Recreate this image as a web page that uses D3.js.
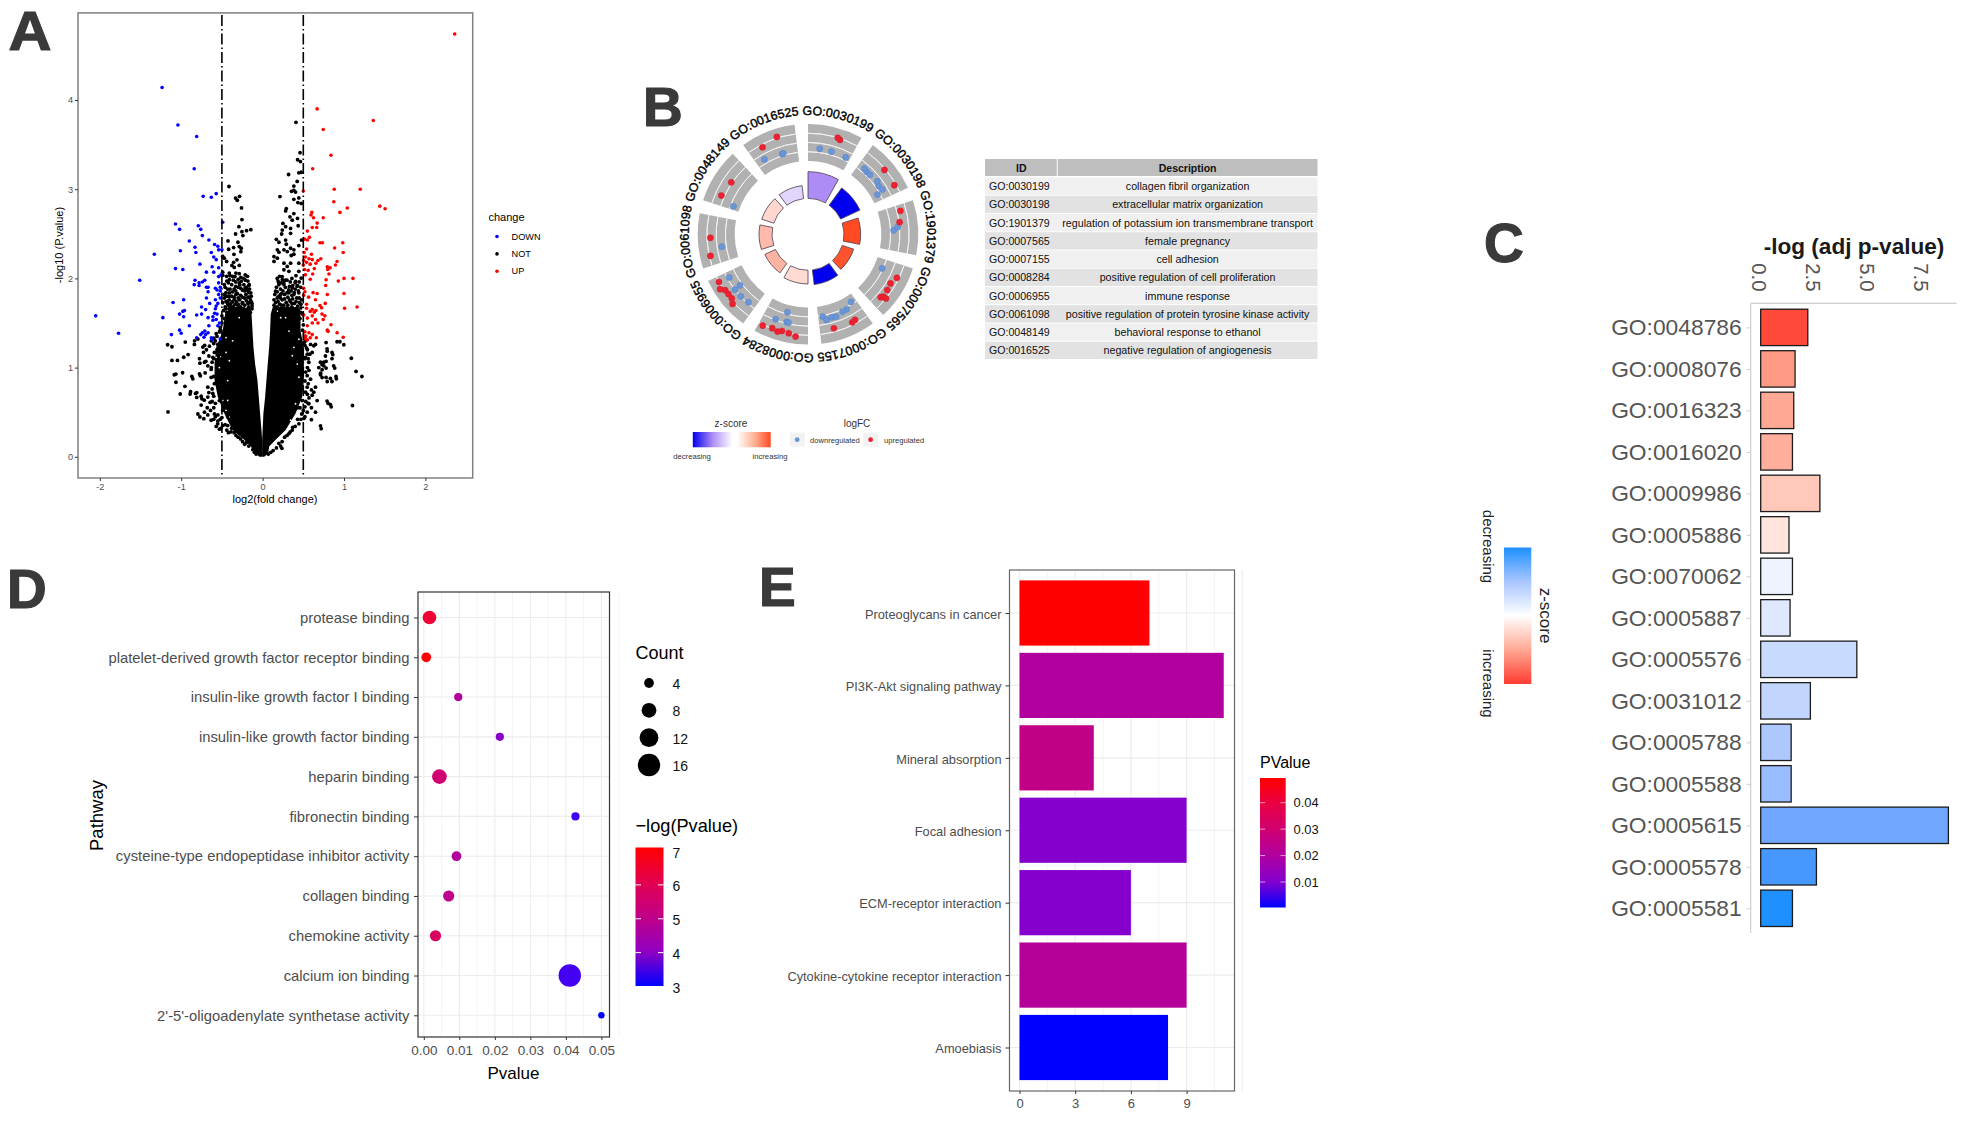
<!DOCTYPE html>
<html><head><meta charset="utf-8">
<script src="https://cdn.jsdelivr.net/npm/d3@7/dist/d3.min.js"></script>
<style>
html,body{margin:0;padding:0;background:#fff}
text{font-family:"Liberation Sans",Arial,sans-serif}
</style></head><body>
<svg id="c" width="1965" height="1121" xmlns="http://www.w3.org/2000/svg"></svg>
<script>
/* ---------- Panel A: volcano ---------- */
const volcanoLegend = ["DOWN","NOT","UP"];
const volcanoColors = ["#0000ff","#000000","#ff0000"];
const volcanoXTicks = [-2,-1,0,1,2];
const volcanoYTicks = [0,1,2,3,4];
const foldThresholds = [-0.5,0.5];
const downPoints = [[-1.235,4.14],[-1.04,3.72],[-.81,3.59],[-.84,3.23],[-.73,2.92],[-.63,2.91],[-.57,2.95],[-.49,2.63],[-1.07,2.61],[-1.02,2.55],[-.79,2.59],[-.76,2.55],[-.74,2.48],[-.9,2.42],[-.66,2.43],[-.59,2.38],[-.54,2.32],[-.5,2.32],[-.55,2.36],[-.83,2.35],[-.82,2.29],[-.63,2.29],[-1.01,2.31],[-1.33,2.27],[-.6,2.24],[-.57,2.21],[-.77,2.16],[-.62,2.13],[-.54,2.12],[-1.07,2.11],[-.98,2.1],[-.69,2.07],[-.6,2.07],[-.51,2.04],[-.54,2.02],[-1.51,1.98],[-.83,1.98],[-.71,1.98],[-.74,1.96],[-.78,1.95],[-.84,1.93],[-.78,1.92],[-.54,1.95],[-.52,1.9],[-.69,1.9],[-.67,1.9],[-.58,1.89],[-.56,1.87],[-.52,1.86],[-.67,1.85],[-.54,1.82],[-.69,1.78],[-.58,1.76],[-.52,1.78],[-.97,1.76],[-1.1,1.73],[-.55,1.72],[-.65,1.72],[-.75,1.68],[-.57,1.69],[-.7,1.65],[-.58,1.66],[-.96,1.64],[-.98,1.63],[-1.02,1.6],[-.75,1.6],[-.81,1.59],[-.59,1.61],[-.56,1.6],[-.61,1.57],[-.97,1.57],[-2.05,1.58],[-1.225,1.56],[-.67,1.56],[-.61,1.53],[-.57,1.54],[-.53,1.5],[-.66,1.47],[-.9,1.47],[-.55,1.47],[-1.02,1.42],[-.71,1.41],[-.74,1.39],[-.67,1.39],[-.76,1.37],[-1.77,1.385],[-1.12,1.37],[-1.0,1.385],[-.7,1.37],[-.81,1.335],[-.72,1.34],[-.63,1.335],[-.52,1.32],[-.62,1.31]];
const upPoints = [[2.36,4.74],[.67,3.9],[1.36,3.77],[.745,3.67],[.84,3.38],[.615,3.23],[.5,2.98],[.88,3.0],[1.2,3.0],[.875,2.86],[1.44,2.81],[1.505,2.78],[1.04,2.79],[.95,2.74],[.605,2.74],[.595,2.71],[.625,2.68],[.745,2.68],[.67,2.62],[.61,2.57],[.665,2.57],[.55,2.53],[.515,2.44],[.55,2.43],[.575,2.46],[.705,2.4],[.735,2.4],[.985,2.4],[.885,2.34],[.99,2.29],[.54,2.33],[.51,2.29],[.6,2.27],[.525,2.24],[.57,2.22],[.61,2.21],[.505,2.2],[.715,2.22],[.68,2.2],[.915,2.19],[.895,2.15],[.655,2.17],[.54,2.18],[.585,2.16],[.5,2.15],[.795,2.13],[.83,2.12],[.635,2.11],[.515,2.1],[.56,2.09],[.8,2.1],[.815,2.05],[.615,2.05],[.525,2.04],[.78,1.985],[1.0,2.0],[1.11,2.0],[.93,1.97],[.585,1.99],[.775,1.92],[.505,1.89],[.52,1.85],[.62,1.84],[.67,1.83],[1.0,1.83],[.505,1.81],[.795,1.82],[.565,1.79],[.65,1.76],[.77,1.72],[.54,1.71],[.705,1.695],[1.16,1.68],[1.007,1.665],[.54,1.665],[.725,1.67],[.61,1.65],[.655,1.64],[.585,1.63],[.635,1.62],[.505,1.59],[.73,1.6],[.765,1.58],[.61,1.58],[.55,1.555],[.65,1.54],[.745,1.54],[.61,1.5],[.68,1.5],[.55,1.47],[.84,1.48],[.795,1.42],[.805,1.405],[.915,1.39],[.52,1.4],[.57,1.39],[.61,1.37],[.53,1.355],[.99,1.34],[.66,1.335],[.585,1.335],[.525,1.325],[.55,1.31]];
const notPointsLeft = [[-.413,3.03],[-.283,2.92],[-.332,2.9],[-.311,2.876],[-.259,2.79],[-.254,2.66],[-.145,2.546],[-.197,2.535],[-.254,2.524],[-.291,2.58],[-.332,2.498],[-.242,2.48],[-.425,2.42],[-.303,2.405],[-.356,2.346],[-.287,2.357],[-.263,2.338],[-.417,2.327],[-.267,2.3],[-.352,2.27],[-.49,2.246],[-.47,2.227],[-.442,2.19],[-.315,2.208],[-.356,2.18],[-.287,2.146],[-.377,2.146],[-.348,2.123],[-.49,2.07],[-.409,2.06],[-.442,2.023],[-.49,2.034],[-.328,2.06],[-.287,2.053],[-.214,2.04],[-.185,2.023],[-.368,2.023],[-.267,2.012],[-.409,1.986],[-.287,1.949],[-.214,1.893],[-.165,1.93],[-.145,1.838],[-.47,1.82],[-.409,1.838],[-.328,1.82],[-.206,1.82],[-.49,1.727],[-.43,1.745],[-.348,1.763],[-.246,1.727],[-.165,1.727],[-.389,1.69],[-.307,1.7],
[-.836,1.30],[-.795,1.32],[-.734,1.23],[-.726,1.17],[-.775,1.10],[-.714,1.06],[-.673,1.02],[-.869,.90],[-.775,.93],[-.706,.94],[-.632,.89],[-.673,.78],[-.885,.73],[-.824,.71],[-.755,.68],[-.746,.65],[-.673,.67],[-.612,.71],[-.645,.61],[-.755,.58],[-.795,.48],[-.714,.50],[-.673,.47],[-.632,.41],[-.592,.48],[-.551,.37],[-.49,.35],[-.51,.32],[-.429,.35],[-.388,.28],[-.327,.24],[-.246,.17],[-.612,1.115],[-.551,1.26],[-.653,1.24],[-.592,1.17],[-.632,.98],[-.592,.82],[-.531,.63],[-.49,.52],[-.429,.45],
[-1.162,.503],[-1.167,1.256],[-1.114,1.234],[-1.114,1.08],[-1.046,1.08],[-.95,1.286],[-.838,1.26],[-.712,1.25],[-.915,1.146],[-.969,1.116],[-1.085,.92],[-1.065,.927],[-.983,.942],[-1.065,.836],[-.857,.874],[-.765,.908],[-.954,.79],[-1.012,.704],[-.891,.704],[-.809,.666],[-.809,.72],[-.697,1.07],[-.77,1.05],[-.717,.635],[-.77,.446],[-.722,.427],
[-.44,1.97],[-.38,1.93],[-.33,1.96],[-.26,1.97],[-.23,1.93],[-.18,1.97],[-.46,1.9],[-.4,1.88],[-.35,1.88],[-.3,1.9],[-.25,1.87],[-.19,1.87],[-.16,1.88],[-.47,1.78],[-.44,1.8],[-.38,1.8],[-.31,1.83],[-.27,1.81],[-.22,1.78],[-.18,1.79],[-.14,1.8],[-.45,1.74],[-.41,1.76],[-.37,1.74],[-.32,1.74],[-.28,1.76],[-.2,1.75],[-.15,1.76],[-.13,1.72],[-.46,1.68],[-.42,1.7],[-.36,1.68],[-.33,1.66],[-.27,1.68],[-.22,1.7],[-.17,1.68],[-.13,1.66],[-.48,1.64],[-.44,1.62],[-.15,1.62],[-.5,1.58],[-.47,1.55],[-.5,1.5],[-.52,1.45],[-.53,1.4],[-.56,1.35],[-.58,1.3],
[-.42,1.95],[-.36,1.98],[-.3,1.99],[-.21,1.98],[-.43,1.88],[-.37,1.85],[-.33,1.86],[-.27,1.89],[-.22,1.86],[-.17,1.84],[-.45,1.84],[-.41,1.8],[-.35,1.79],[-.3,1.78],[-.25,1.79],[-.16,1.79],[-.43,1.72],[-.39,1.72],[-.34,1.71],[-.3,1.71],[-.25,1.72],[-.18,1.72],[-.14,1.74],[-.41,1.66],[-.37,1.64],[-.31,1.65],[-.25,1.66],[-.2,1.65],[-.45,1.66],[-.13,1.69],[-.23,2.0],[-.34,2.02],[-.4,2.03],[-.17,1.92],[-.47,1.93],[-.2,1.9],[-.28,1.93],[-.33,1.91],
[-.68,.55],[-.64,.52],[-.6,.55],[-.62,.62],[-.58,.6],[-.66,.72],[-.62,.76],[-.6,.68],[-.6,.9],[-.63,1.0],[-.62,1.06],[-.6,1.1],[-.66,1.13],[-.69,1.2],[-.63,1.3],[-.6,1.27],[-.56,1.2],[-.6,1.33],[-.57,1.38],[-.52,1.42],[-.58,.45],[-.55,.47],[-.52,.42],[-.6,.42],[-.55,.4],[-.5,.44],[-.57,.34],[-.53,.31],[-.46,.36],[-.44,.3],[-.42,.27],[-.38,.32],[-.35,.27],[-.3,.22],[-.27,.2],[-.22,.14],[-.2,.16],[-.17,.12],[-.12,.08],[-.1,.05],[-.08,.03]];
const notPointsRight = [[.41,3.75],[.319,3.165],[.445,3.184],[.474,3.19],[.46,3.41],[.43,3.33],[.465,3.31],[.425,3.087],[.384,3.035],[.384,2.987],[.356,2.976],[.405,2.968],[.213,2.917],[.384,2.887],[.445,2.902],[.433,2.85],[.474,2.84],[.291,2.783],[.283,2.757],[.384,2.727],[.336,2.69],[.364,2.653],[.429,2.672],[.25,2.616],[.283,2.58],[.344,2.56],[.242,2.542],[.437,2.59],[.234,2.498],[.344,2.505],[.169,2.438],[.283,2.43],[.201,2.405],[.478,2.43],[.291,2.383],[.445,2.368],[.181,2.32],[.262,2.32],[.344,2.338],[.384,2.32],[.201,2.294],[.303,2.301],[.14,2.245],[.181,2.227],[.352,2.257],[.384,2.271],[.14,2.19],[.262,2.171],[.303,2.134],[.344,2.171],[.445,2.171],[.262,2.097],[.323,2.079],[.445,2.079],[.209,2.023],[.242,1.986],[.405,1.967],[.474,2.004],[.201,1.949],[.262,1.93],[.364,1.893],[.425,1.912],[.16,1.856],[.323,1.838],[.222,1.819],[.384,1.819],[.445,1.838],
[.589,1.26],[.65,1.26],[.609,1.17],[.792,1.21],[.853,1.17],[.772,1.13],[.853,1.10],[.711,1.06],[.752,1.06],[.873,1.02],[.69,1.0],[.752,1.02],[.711,.92],[.78,.89],[.833,.88],[.902,.90],[.528,1.115],[.568,1.06],[.548,.91],[.589,.87],[.65,.78],[.629,.725],[.609,.69],[.792,.625],[.833,.585],[.67,.63],[.65,.50],[.548,.50],[.711,.347],[.487,.63],[.568,.595],[.507,.43],[.446,.37],[.365,.30],[.324,.26],[.222,.12],[.548,.78],[.528,.725],[.629,1.245],[.528,1.30],
[1.104,.575],[1.22,.90],[1.148,.957],[1.09,1.105],[.72,.315],[.804,.6],[.843,.56],[.6,.416],[.237,.095],[.78,1.28],[.915,1.29],[.95,1.29],[.998,1.256],[.794,1.184],[.862,1.146],[.78,1.07],[.731,1.033],[.886,.995],[.731,.976],[.78,.995],[.712,.938],[.731,.889],[.794,.844],[.852,.844],[.906,.874],
[.19,1.97],[.23,1.95],[.3,1.98],[.34,1.96],[.4,1.95],[.45,1.96],[.17,1.9],[.22,1.88],[.28,1.9],[.33,1.91],[.4,1.88],[.47,1.9],[.15,1.82],[.2,1.8],[.27,1.82],[.31,1.79],[.36,1.81],[.42,1.78],[.48,1.76],[.14,1.76],[.19,1.74],[.24,1.76],[.29,1.73],[.34,1.74],[.39,1.72],[.45,1.73],[.14,1.7],[.18,1.68],[.23,1.7],[.3,1.67],[.36,1.68],[.41,1.66],[.47,1.67],[.49,1.6],[.46,1.55],[.5,1.48],[.49,1.42],[.52,1.35],[.51,1.28],[.54,1.22],[.55,1.15],[.56,1.1],
[.2,1.93],[.26,1.95],[.32,1.87],[.37,1.92],[.43,1.92],[.25,1.86],[.3,1.84],[.35,1.86],[.39,1.84],[.44,1.86],[.18,1.85],[.23,1.83],[.18,1.78],[.22,1.78],[.27,1.77],[.33,1.76],[.37,1.77],[.41,1.74],[.45,1.78],[.16,1.73],[.21,1.71],[.26,1.7],[.31,1.7],[.36,1.72],[.43,1.69],[.47,1.71],[.16,1.67],[.2,1.66],[.26,1.65],[.32,1.64],[.38,1.65],[.44,1.64],[.15,1.63],[.47,1.62],[.28,1.98],[.36,2.0],[.24,2.02],[.41,2.03],[.18,2.0],
[.52,1.25],[.55,1.2],[.52,1.1],[.58,1.15],[.55,1.0],[.53,.95],[.57,.97],[.52,.85],[.56,.82],[.6,.75],[.55,.7],[.53,.62],[.57,.66],[.52,.56],[.5,.52],[.48,.48],[.52,.45],[.47,.42],[.43,.42],[.4,.34],[.37,.33],[.34,.28],[.3,.24],[.27,.22],[.24,.17],[.2,.15],[.17,.1],[.13,.07],[.1,.05],[.07,.03],[.56,.6],[.6,.55],[.46,.55],[.43,.55]];
/* outline of the solid black mass, read per -log10 p level */
const massLevels     = [1.68,1.60,1.41,1.225,1.04,.855,.67,.485,.30,.19,.115,.04,0];
const massLeftOuter  = [-.39,-.46,-.49,-.57,-.59,-.59,-.55,-.47,-.37,-.226,-.144,-.09,-.04];
const massLeftInner  = [-.15,-.136,-.124,-.112,-.092,-.063,-.047,-.031,-.014,-.006,-.006,-.006,-.006];
const massRightInner = [.125,.10,.092,.08,.063,.047,.031,.01,0,-.005,-.006,-.006,-.006];
const massRightOuter = [.44,.466,.466,.507,.507,.507,.486,.405,.283,.16,.08,.07,.02];
/* small white flecks visible inside the mass */
const massFlecks = [[-.571,1.115],[-.51,1.122],[-.449,1.17],[-.409,1.077],[-.531,1.0],[-.429,.855],[-.49,.632],[-.449,.521],[-.592,.595],[-.429,.632],[-.409,.447],[.385,1.226],[.446,1.318],[.365,1.133],[.426,1.04],[.446,.892],[.405,.595],[.446,.503],[.344,.41],[.324,1.41],[.283,1.56],[-.368,1.634],[-.287,1.56],[-.205,1.67],[.182,1.634],[.222,1.56],[-.449,1.337],[-.368,1.3],[.365,1.67]];

/* ---------- Panel B: GO circle ---------- */
const goIds = ["GO:0030199","GO:0030198","GO:1901379","GO:0007565","GO:0007155","GO:0008284","GO:0006955","GO:0061098","GO:0048149","GO:0016525"];
const goDescriptions = ["collagen fibril organization","extracellular matrix organization","regulation of potassium ion transmembrane transport","female pregnancy","cell adhesion","positive regulation of cell proliferation","immune response","positive regulation of protein tyrosine kinase activity","behavioral response to ethanol","negative regulation of angiogenesis"];
const goZScores = [-.5,-1,1,.95,-1,.2,.42,.38,.22,-.18];
const goBarHeights = [188,172,158,144,152,149,143,147,146,147];
const goGenes = [
 [[.59,1.49],[.645,1.27],[.27,-.89],[.545,-.95],[.9,-1.0]],
 [[.16,-.84],[.245,-.97],[.35,-.95],[.48,1.32],[.84,1.22],[.57,-.73],[.68,-1],[.79,-.78],[.835,-1.92]],
 [[.13,.57],[.36,.1],[.46,-.3],[.53,-.98]],
 [[.23,-1.65],[.28,1.16],[.44,.68],[.59,.82],[.745,.95],[.79,.7],[.74,1.49]],
 [[.12,-1.9],[.3,-1.2],[.41,-1.16],[.59,-.78],[.69,-.89],[.82,-.68],[.89,-1.32],[.25,.95],[.32,1.09],[.71,.92]],
 [[.51,-1.81],[.43,-.22],[.47,-.26],[.72,-.14],[.24,1.82],[.38,1.46],[.52,1.35],[.6,1.65],[.72,1.41],[.91,1.65]],
 [[.87,-.33],[.59,-1.1],[.58,-.04],[.39,-.05],[.18,-.22],[.89,1.49],[.76,1.92],[.69,1.32],[.59,1.25],[.48,1.27],[.39,1.76]],
 [[.55,.95],[.19,1.32],[.34,-.76]],
 [[.555,.14],[.21,.5],[.09,-1.97]],
 [[.63,1.69],[.29,1.04],[.2,-.84],[.655,-1.16],[.63,-1.2]]
];
const logFcLegend = ["downregulated","upregulated"];
const logFcColors = ["#6a96d8","#ef2030"];

/* ---------- Panel C: bars ---------- */
const cTerms = ["GO:0048786","GO:0008076","GO:0016323","GO:0016020","GO:0009986","GO:0005886","GO:0070062","GO:0005887","GO:0005576","GO:0031012","GO:0005788","GO:0005588","GO:0005615","GO:0005578","GO:0005581"];
const cValues = [2.18,1.59,1.53,1.47,2.74,1.31,1.47,1.36,4.45,2.3,1.41,1.41,8.69,2.58,1.47];
const cZScores = [.95,.57,.49,.46,.32,.15,-.1,-.2,-.32,-.36,-.48,-.58,-.78,-.92,-1];
const cTicks = [0,2.5,5,7.5];

/* ---------- Panel D: bubbles ---------- */
const dPathways = ["protease binding","platelet-derived growth factor receptor binding","insulin-like growth factor I binding","insulin-like growth factor binding","heparin binding","fibronectin binding","cysteine-type endopeptidase inhibitor activity","collagen binding","chemokine activity","calcium ion binding","2'-5'-oligoadenylate synthetase activity"];
const dPvalues = [.0016,.0007,.0097,.0214,.0044,.0427,.0092,.007,.0033,.0411,.05];
const dCounts = [7,4,3,3,8,3,4,5,5,16,2];
const dTicks = [0,.01,.02,.03,.04,.05];
const dCountLegend = [4,8,12,16];
const dColorLegend = [3,4,5,6,7];

/* ---------- Panel E: bars ---------- */
const ePathways = ["Proteoglycans in cancer","PI3K-Akt signaling pathway","Mineral absorption","Focal adhesion","ECM-receptor interaction","Cytokine-cytokine receptor interaction","Amoebiasis"];
const eCounts = [7,11,4,9,6,9,8];
const ePvalues = [.0488,.02,.025,.0105,.0105,.021,.0005];
const eTicks = [0,3,6,9];
const eColorLegend = [.01,.02,.03,.04];

/* ---------- drawing ---------- */
const svg = d3.select("#c");
const defs = svg.append("defs");
const FG = "#4d4d4d", GRID = "#ececec";
const text = (g,x,y,s,o={})=>{
  const t=g.append("text").attr("x",x).attr("y",y).text(s)
    .attr("font-size",o.size||12).attr("fill",o.fill||"#000")
    .attr("text-anchor",o.anchor||"start").attr("dominant-baseline",o.base||"central");
  if(o.bold)t.attr("font-weight","bold");
  if(o.rot!=null)t.attr("transform",`rotate(${o.rot} ${x} ${y})`);
  return t;
};
const styleAxis=(g,size,col=FG,tickCol="#333")=>{
  g.select(".domain").remove();
  g.selectAll("text").attr("font-size",size).attr("fill",col);
  g.selectAll("line").attr("stroke",tickCol);
};
const gradient=(id,colors,x2,y2)=>{
  const lg=defs.append("linearGradient").attr("id",id).attr("x1",0).attr("y1",0).attr("x2",x2).attr("y2",y2);
  colors.forEach((c,i)=>lg.append("stop").attr("offset",i/(colors.length-1)).attr("stop-color",c));
};
// panel letters
[["A",8.5,50],["B",643,126],["C",1484,262],["D",7,608],["E",759,606]].forEach(([s,x,y])=>{
  const t=text(svg,x,y,s,{size:55,bold:true,fill:"#3a3a3a",base:"auto"}).attr("stroke","#3a3a3a").attr("stroke-width",1.2);
  if(s==="A")t.attr("textLength",43).attr("lengthAdjust","spacingAndGlyphs");
});

/* A */
{
  const x=d3.scaleLinear().domain([0,1]).range([262.6,344]);
  const y=d3.scaleLinear().domain([0,1]).range([456.8,367.6]);
  const g=svg.append("g");
  const PL=78,PR=472.7,PT=12.9,PB=478;
  const area=d3.area().y(d=>y(d.l)).x0(d=>x(d.a)).x1(d=>x(d.b)).curve(d3.curveLinear);
  g.append("path").attr("d",area(massLevels.map((l,i)=>({l,a:massLeftOuter[i],b:massLeftInner[i]})))).attr("fill","#000");
  g.append("path").attr("d",area(massLevels.map((l,i)=>({l,a:massRightInner[i],b:massRightOuter[i]})))).attr("fill","#000");
  g.append("g").selectAll("circle").data(massFlecks).join("circle").attr("cx",d=>x(d[0])).attr("cy",d=>y(d[1])).attr("r",.9).attr("fill","#fff");
  const dots=(pts,c,r)=>g.append("g").selectAll("circle").data(pts).join("circle")
    .attr("cx",d=>x(d[0])).attr("cy",d=>y(d[1])).attr("r",r).attr("fill",c);
  dots(notPointsLeft,volcanoColors[1],1.9);dots(notPointsRight,volcanoColors[1],1.9);
  dots(downPoints,volcanoColors[0],1.8);dots(upPoints,volcanoColors[2],1.8);
  g.selectAll("line.th").data(foldThresholds).join("line").attr("class","th")
    .attr("x1",d=>x(d)).attr("x2",d=>x(d)).attr("y1",PT+2).attr("y2",PB-1)
    .attr("stroke","#000").attr("stroke-width",1.6).attr("stroke-dasharray","11 3 1.5 3");
  g.append("rect").attr("x",PL).attr("y",PT).attr("width",PR-PL).attr("height",PB-PT).attr("fill","none").attr("stroke","#808080").attr("stroke-width",1.5);
  const ax=g.append("g").attr("transform",`translate(0,${PB})`).call(d3.axisBottom(x).tickValues(volcanoXTicks).tickFormat(String).tickSize(3).tickPadding(2));
  styleAxis(ax,9.2);
  const ay=g.append("g").attr("transform",`translate(${PL},0)`).call(d3.axisLeft(y).tickValues(volcanoYTicks).tickFormat(String).tickSize(3).tickPadding(2));
  styleAxis(ay,9.2);
  text(g,275,499,"log2(fold change)",{size:11,anchor:"middle"});
  text(g,59,245,"-log10 (P.value)",{size:11,anchor:"middle",rot:-90});
  text(g,488.5,217.4,"change",{size:11});
  volcanoLegend.forEach((s,i)=>{
    const yy=236.5+i*17.4;
    g.append("circle").attr("cx",497).attr("cy",yy).attr("r",1.8).attr("fill",volcanoColors[i]);
    text(g,511.5,yy,s,{size:9.2});
  });
}

/* B */
{
  const cx=808,cy=234.3,SPAN=29*Math.PI/180,STEP=36*Math.PI/180;
  const g=svg.append("g").attr("transform",`translate(${cx},${cy})`);
  const rFc=d3.scaleLinear().domain([-3,3]).range([73.3,110.3]);
  const zCol=d3.scaleLinear().domain([-1,-.5,0,1]).range(["#0000ee","#ae8cf6","#ffffff","#ff4a22"]);
  const rBar=d3.scaleLinear().domain([0,331]).range([0,110.3]);
  const arc=d3.arc();
  goIds.forEach((id,i)=>{
    const a0=i*STEP,a1=a0+SPAN;
    g.append("path").attr("d",arc({innerRadius:rFc(-3),outerRadius:rFc(3),startAngle:a0,endAngle:a1})).attr("fill","#b1b1b1");
    [-1.5,0,1.5].forEach(v=>g.append("path").attr("d",arc({innerRadius:rFc(v),outerRadius:rFc(v),startAngle:a0,endAngle:a1})).attr("fill","none").attr("stroke","#f2f2f2").attr("stroke-width",.9));
    g.append("path").attr("d",arc({innerRadius:36,outerRadius:rBar(goBarHeights[i]),startAngle:a0,endAngle:a1}))
      .attr("fill",zCol(goZScores[i])).attr("stroke","#4a3a4a").attr("stroke-width",.8);
    g.selectAll(null).data(goGenes[i].slice().sort((p,q)=>p[1]-q[1])).join("circle")
      .attr("cx",d=>rFc(d[1])*Math.sin(a0+d[0]*SPAN)).attr("cy",d=>-rFc(d[1])*Math.cos(a0+d[0]*SPAN))
      .attr("r",3.1).attr("fill",d=>d[1]<0?logFcColors[0]:logFcColors[1]).attr("stroke",d=>d[1]<0?"#4f7cc0":"#c0202a").attr("stroke-width",.4);
    const R=119.3,mid=a0+SPAN/2,half=STEP/2+.08;
    const pa=t=>[R*Math.sin(t),-R*Math.cos(t)];
    const [sx,sy]=pa(mid-half),[ex,ey]=pa(mid+half);
    defs.append("path").attr("id","lab"+i).attr("d",`M${sx},${sy}A${R},${R} 0 0 1 ${ex},${ey}`);
    g.append("text").attr("font-size",12.4).attr("fill","#000").attr("stroke","#000").attr("stroke-width",.4).attr("text-anchor","middle")
      .append("textPath").attr("href","#lab"+i).attr("startOffset","50%").text(id);
  });
  // table
  const t=svg.append("g");
  const X0=985,X1=1057.7,X2=1317.5,HDR=159,HH=17;
  t.append("rect").attr("x",X0).attr("y",HDR).attr("width",X1-X0-1).attr("height",HH).attr("fill","#bebebe");
  t.append("rect").attr("x",X1).attr("y",HDR).attr("width",X2-X1).attr("height",HH).attr("fill","#bebebe");
  text(t,(X0+X1)/2,HDR+HH/2+.5,"ID",{size:10.5,bold:true,anchor:"middle",fill:"#111"});
  text(t,(X1+X2)/2,HDR+HH/2+.5,"Description",{size:10.5,bold:true,anchor:"middle",fill:"#111"});
  const rowY=d3.scaleBand().domain(goIds).range([177.5,359]).paddingInner(.05);
  goIds.forEach((id,i)=>{
    const c=i%2?"#e2e2e2":"#f0f0f0";
    t.append("rect").attr("x",X0).attr("y",rowY(id)).attr("width",X2-X0).attr("height",rowY.bandwidth()).attr("fill",c);
    text(t,X0+4,rowY(id)+rowY.bandwidth()/2,id,{size:10.6,fill:"#111"});
    text(t,(X1+X2)/2,rowY(id)+rowY.bandwidth()/2,goDescriptions[i],{size:10.7,anchor:"middle",fill:"#111"});
  });
  // legend
  const l=svg.append("g");
  gradient("zNeg",["#0000ee","#ae8cf6","#ffffff"],1,0);
  gradient("zPos",["#ffffff","#ffb59a","#ff4a22"],1,0);
  l.append("rect").attr("x",692.8).attr("y",432).attr("width",39.6).attr("height",15.3).attr("fill","url(#zNeg)");
  l.append("rect").attr("x",737).attr("y",432).attr("width",33.7).attr("height",15.3).attr("fill","url(#zPos)");
  text(l,731,423.5,"z-score",{size:10,anchor:"middle",fill:"#333"});
  text(l,692,456,"decreasing",{size:7.7,anchor:"middle",fill:"#333"});
  text(l,770,456,"increasing",{size:7.7,anchor:"middle",fill:"#333"});
  text(l,857,423.5,"logFC",{size:10,anchor:"middle",fill:"#333"});
  [[790,810],[863.4,884]].forEach(([kx,tx],i)=>{
    l.append("rect").attr("x",kx).attr("y",432.7).attr("width",14.7).attr("height",14).attr("fill","#f2f2f2");
    l.append("circle").attr("cx",kx+7.2).attr("cy",439.7).attr("r",2.4).attr("fill",logFcColors[i]);
    text(l,tx,440,logFcLegend[i],{size:7.6,fill:"#333"});
  });
}

/* C */
{
  const g=svg.append("g");
  const x=d3.scaleLinear().domain([0,2.5]).range([1760.7,1814.7]);
  const y=d3.scalePoint().domain(cTerms).range([327.4,908.3]);
  const zCol=d3.scaleLinear().domain([-1,0,1]).range(["#1e90ff","#ffffff","#ff3b30"]).interpolate(d3.interpolateLab);
  g.append("line").attr("x1",1750.7).attr("x2",1750.7).attr("y1",303.4).attr("y2",933).attr("stroke","#cfcfcf").attr("stroke-width",1.2);
  g.append("line").attr("x1",1750.7).attr("x2",1956.7).attr("y1",303.4).attr("y2",303.4).attr("stroke","#cfcfcf").attr("stroke-width",1.2);
  g.selectAll("rect").data(cTerms).join("rect")
    .attr("x",x(0)).attr("y",d=>y(d)-18.2).attr("height",36.4)
    .attr("width",(d,i)=>x(cValues[i])-x(0)).attr("fill",(d,i)=>zCol(cZScores[i]))
    .attr("stroke","#1c1c1c").attr("stroke-width",1.3);
  const ay=g.append("g").attr("transform","translate(1750.7,0)").call(d3.axisLeft(y).tickSize(4).tickPadding(5));
  styleAxis(ay,22.8,"#555","#ccc");
  const ax=g.append("g").attr("transform","translate(0,303.4)").call(d3.axisTop(x).tickValues(cTicks).tickFormat(d3.format(".1f")).tickSize(0));
  ax.select(".domain").remove();
  ax.selectAll("text").attr("font-size",20.5).attr("fill","#555").attr("text-anchor","middle").attr("dy",0).attr("y",0)
    .attr("transform","translate(-1.5,-26) rotate(90)").attr("dominant-baseline","central");
  text(g,1854,246.6,"-log (adj p-value)",{size:22.6,bold:true,anchor:"middle",fill:"#1a1a1a"});
  defs.append("linearGradient").attr("id","zC").attr("x1",0).attr("y1",0).attr("x2",0).attr("y2",1)
    .selectAll("stop").data([-1,-.5,0,.5,1]).join("stop").attr("offset",d=>(d+1)/2).attr("stop-color",d=>zCol(d));
  g.append("rect").attr("x",1504).attr("y",547.5).attr("width",27.3).attr("height",136.5).attr("fill","url(#zC)");
  text(g,1545.7,615.5,"z-score",{size:17,anchor:"middle",rot:90,fill:"#222"});
  text(g,1488,546.5,"decreasing",{size:15,anchor:"middle",rot:90,fill:"#222"});
  text(g,1488,683.5,"increasing",{size:15,anchor:"middle",rot:90,fill:"#222"});
}

/* D */
{
  const g=svg.append("g");
  const L=418,R=609.5,T=592,B=1037;
  const x=d3.scaleLinear().domain([0,.05]).range([423.8,601.4]);
  const y=d3.scalePoint().domain(dPathways).range([617.5,1015.3]);
  const col=d3.scaleLinear().domain([3,7]).range(["blue","red"]).interpolate(d3.interpolateLab).clamp(true);
  const rad=d3.scalePow().exponent(.6).domain([0,16]).range([0,11.2]);
  const vLines=d3.range(0,.0551,.005);
  g.selectAll("line.v").data(vLines).join("line").attr("class","v").attr("x1",d=>x(d)).attr("x2",d=>x(d)).attr("y1",T).attr("y2",B).attr("stroke",GRID).attr("stroke-width",(d,i)=>i%2?.6:1.1);
  g.selectAll("line.h").data(dPathways).join("line").attr("class","h").attr("x1",L).attr("x2",R).attr("y1",d=>y(d)).attr("y2",d=>y(d)).attr("stroke",GRID).attr("stroke-width",1.1);
  g.selectAll("circle.p").data(dPathways).join("circle").attr("class","p")
    .attr("cx",(d,i)=>x(dPvalues[i])).attr("cy",d=>y(d)).attr("r",(d,i)=>rad(dCounts[i]))
    .attr("fill",(d,i)=>col(-Math.log(dPvalues[i])));
  g.append("rect").attr("x",L).attr("y",T).attr("width",R-L).attr("height",B-T).attr("fill","none").attr("stroke","#333").attr("stroke-width",1.2);
  styleAxis(g.append("g").attr("transform",`translate(${L},0)`).call(d3.axisLeft(y).tickSize(4).tickPadding(4.5)),14.8);
  styleAxis(g.append("g").attr("transform",`translate(0,${B})`).call(d3.axisBottom(x).tickValues(dTicks).tickFormat(d3.format(".2f")).tickSize(3).tickPadding(5)),13.5);
  text(g,513.5,1073.5,"Pvalue",{size:17,anchor:"middle"});
  text(g,96.5,815.5,"Pathway",{size:18.5,anchor:"middle",rot:-90});
  text(g,635.5,652.5,"Count",{size:18});
  const ly=d3.scalePoint().domain(dCountLegend).range([683,765]);
  dCountLegend.forEach(c=>{
    g.append("circle").attr("cx",649).attr("cy",ly(c)).attr("r",rad(c)).attr("fill","#000");
    text(g,672.5,ly(c)+1,c,{size:14,fill:"#111"});
  });
  text(g,635.5,826,"\u2212log(Pvalue)",{size:18.2});
  const cb=d3.scaleLinear().domain([3,7]).range([986.5,851]);
  gradient("dBar",[7.1,6,5,4,3].map(v=>col(v)),0,1);
  g.append("rect").attr("x",635.5).attr("y",847.5).attr("width",28).attr("height",138.5).attr("fill","url(#dBar)");
  dColorLegend.forEach(v=>{
    if(v>3&&v<7){
      g.append("line").attr("x1",635.5).attr("x2",641).attr("y1",cb(v)).attr("y2",cb(v)).attr("stroke","#fff");
      g.append("line").attr("x1",658).attr("x2",663.5).attr("y1",cb(v)).attr("y2",cb(v)).attr("stroke","#fff");
    }
    text(g,672.5,cb(v)+1.5,v,{size:14,fill:"#111"});
  });
}

/* E */
{
  const g=svg.append("g");
  const L=1009.5,R=1234.5,T=570,B=1091;
  const x=d3.scaleLinear().domain([0,3]).range([1019.5,1075.2]);
  const y=d3.scalePoint().domain(ePathways).range([613,1047.5]);
  const col=d3.scaleLinear().domain([.0005,.0488]).range(["blue","red"]).interpolate(d3.interpolateLab);
  const vLines=d3.range(0,12.1,1.5);
  g.selectAll("line.v").data(vLines).join("line").attr("class","v").attr("x1",d=>x(d)).attr("x2",d=>x(d)).attr("y1",T).attr("y2",B).attr("stroke",GRID).attr("stroke-width",(d,i)=>i%2?.6:1.1);
  g.selectAll("line.h").data(ePathways).join("line").attr("class","h").attr("x1",L).attr("x2",R).attr("y1",d=>y(d)).attr("y2",d=>y(d)).attr("stroke",GRID).attr("stroke-width",1.1);
  g.selectAll("rect.b").data(ePathways).join("rect").attr("class","b")
    .attr("x",x(0)).attr("y",d=>y(d)-32.6).attr("height",65.2)
    .attr("width",(d,i)=>x(eCounts[i])-x(0)).attr("fill",(d,i)=>col(ePvalues[i]));
  g.append("rect").attr("x",L).attr("y",T).attr("width",R-L).attr("height",B-T).attr("fill","none").attr("stroke","#666").attr("stroke-width",1.2);
  const ey=g.append("g").attr("transform",`translate(${L},0)`).call(d3.axisLeft(y).tickSize(4).tickPadding(4));
  styleAxis(ey,12.8);
  ey.selectAll("text").attr("y",1.2);
  styleAxis(g.append("g").attr("transform",`translate(0,${B})`).call(d3.axisBottom(x).tickValues(eTicks).tickFormat(String).tickSize(3).tickPadding(5)),13);
  text(g,1260,762,"PValue",{size:16});
  const lg=defs.append("linearGradient").attr("id","eBar").attr("x1",0).attr("y1",0).attr("x2",0).attr("y2",1);
  [.0488,.04,.03,.02,.01,.0005].forEach(v=>lg.append("stop").attr("offset",(.0488-v)/.0483).attr("stop-color",col(v)));
  g.append("rect").attr("x",1260).attr("y",778).attr("width",25.7).attr("height",129.5).attr("fill","url(#eBar)");
  const cb=d3.scaleLinear().domain([.01,.04]).range([882,802.7]);
  eColorLegend.forEach(v=>{
    g.append("line").attr("x1",1260).attr("x2",1265.2).attr("y1",cb(v)).attr("y2",cb(v)).attr("stroke","#fff").attr("stroke-opacity",.6);
    g.append("line").attr("x1",1280.5).attr("x2",1285.7).attr("y1",cb(v)).attr("y2",cb(v)).attr("stroke","#fff").attr("stroke-opacity",.6);
    text(g,1293.5,cb(v),d3.format(".2f")(v),{size:12.9,fill:"#111"});
  });
}
</script>
</body></html>
